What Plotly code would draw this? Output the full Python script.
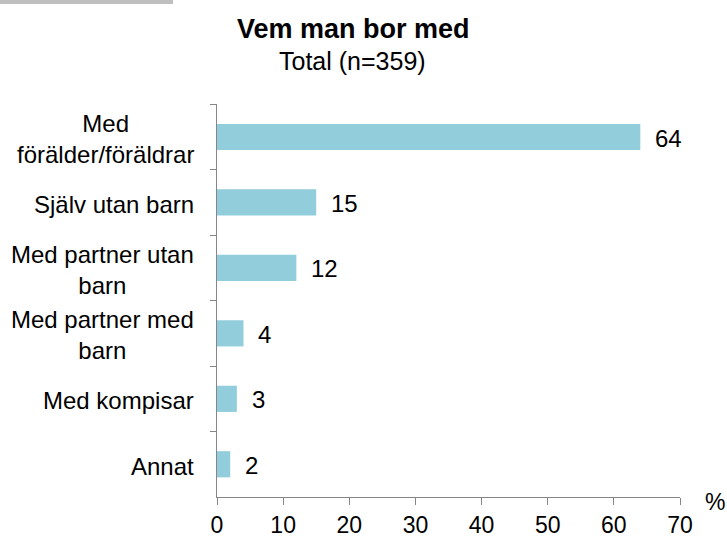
import plotly.graph_objects as go

categories = ["Med<br>förälder/föräldrar", "Själv utan barn", "Med partner utan<br>barn",
              "Med partner med<br>barn", "Med kompisar", "Annat"]
values = [64, 15, 12, 4, 3, 2]
x_ticks = [0, 10, 20, 30, 40, 50, 60, 70]
title_text = "Vem man bor med"
subtitle_text = "Total (n=359)"

L, R, T, B = 217, 47, 104, 40
W, H = 727, 537
pw, ph = W - L - R, H - T - B


def px_to_paper_x(px):
    return (px - L) / pw


def px_to_paper_y(py):
    return (H - B - py) / ph


fig = go.Figure()
fig.add_trace(go.Bar(
    x=values, y=categories, orientation="h",
    marker=dict(color="#92CDDC", line=dict(width=0)),
    hoverinfo="skip",
))

annotations = []
for c, v in zip(categories, values):
    annotations.append(dict(x=v, y=c, xref="x", yref="y", text=str(v), showarrow=False,
                            xanchor="left", yanchor="middle", xshift=13, yshift=-1,
                            font=dict(size=24, color="black")))
    annotations.append(dict(x=0, y=c, xref="paper", yref="y", text=c, showarrow=False,
                            xanchor="right", yanchor="middle", xshift=-21, yshift=-2,
                            align="center", font=dict(size=24, color="black")))
annotations.append(dict(x=1, y=0, xref="paper", yref="paper", text="%", showarrow=False,
                        xanchor="center", yanchor="middle", xshift=35, yshift=-5,
                        font=dict(size=23, color="black")))
annotations.append(dict(x=px_to_paper_x(353), y=px_to_paper_y(29), xref="paper", yref="paper",
                        text="<b>" + title_text + "</b>", showarrow=False,
                        xanchor="center", yanchor="middle", font=dict(size=27, color="black")))
annotations.append(dict(x=px_to_paper_x(352), y=px_to_paper_y(61), xref="paper", yref="paper",
                        text=subtitle_text, showarrow=False,
                        xanchor="center", yanchor="middle", font=dict(size=25, color="black")))

fig.update_layout(
    width=W, height=H,
    margin=dict(l=L, r=R, t=T, b=B, autoexpand=False),
    paper_bgcolor="white", plot_bgcolor="white",
    font=dict(family="Liberation Sans, Arial, sans-serif", color="black"),
    showlegend=False,
    bargap=0.6,
    annotations=annotations,
    shapes=[dict(type="rect", xref="paper", yref="paper",
                 x0=px_to_paper_x(0), x1=px_to_paper_x(173),
                 y0=px_to_paper_y(4), y1=px_to_paper_y(-2),
                 fillcolor="#BFBFBF", line=dict(width=0), layer="above")],
    xaxis=dict(range=[0, 70], tickvals=x_ticks, showgrid=False, zeroline=False,
               showline=True, linecolor="#868686", linewidth=1,
               ticks="outside", ticklen=7, tickcolor="#868686", automargin=False,
               tickfont=dict(size=23, color="black"), fixedrange=True),
    yaxis=dict(autorange="reversed", showgrid=False, zeroline=False,
               showline=True, linecolor="#868686", linewidth=1, automargin=False,
               ticks="outside", ticklen=6, tickcolor="#868686", tickson="boundaries",
               showticklabels=False, fixedrange=True),
)

fig.write_html("out.html", config={"displayModeBar": False},
               post_script="document.body.style.margin='0';document.body.style.overflow='hidden';")
